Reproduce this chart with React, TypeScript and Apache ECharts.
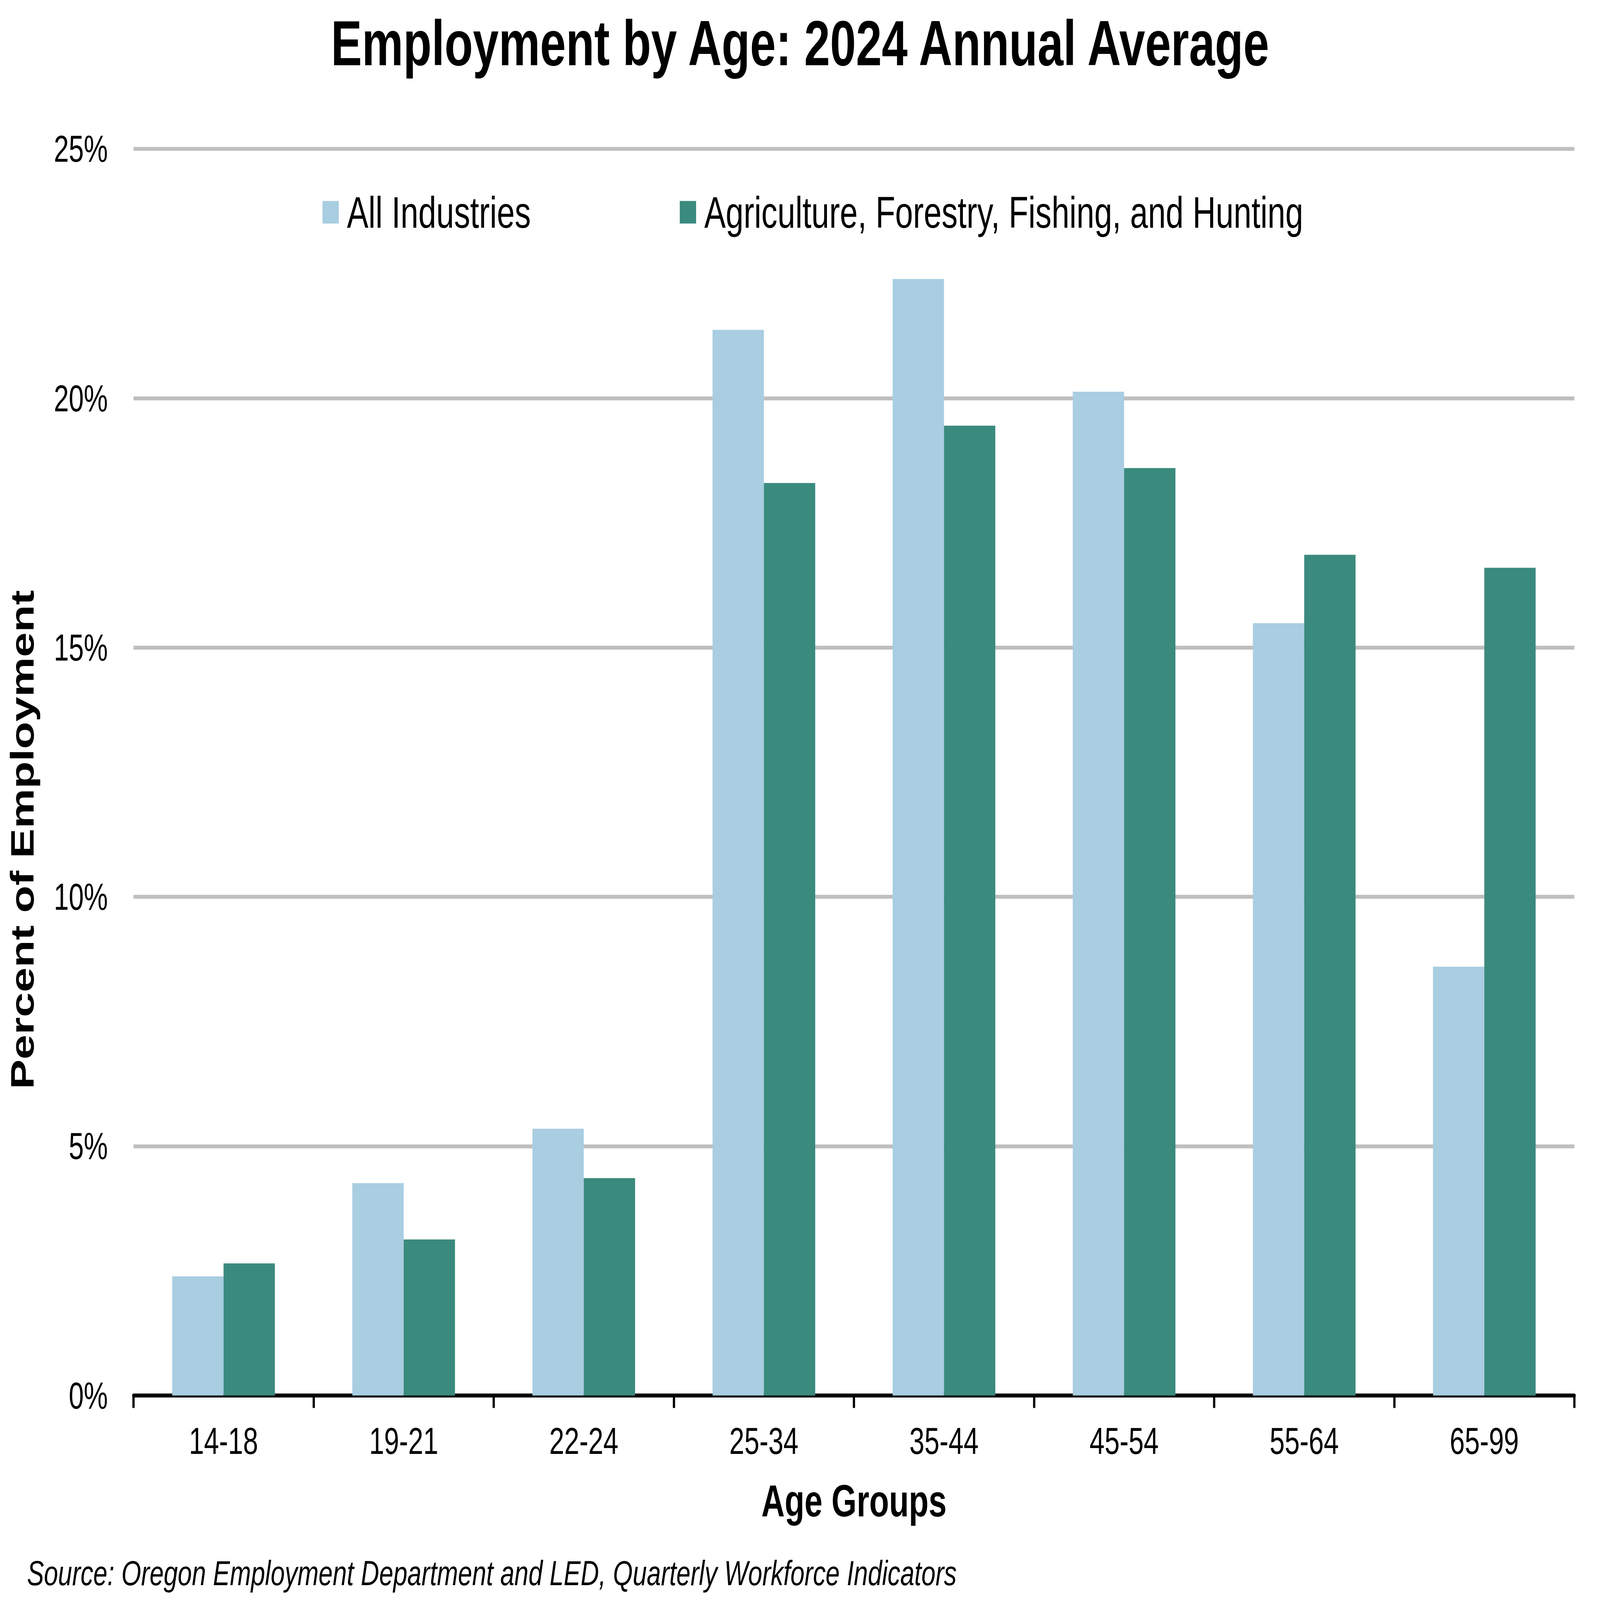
import React, { useEffect, useRef, useState } from "react";
import * as echarts from "echarts";

const categories = ["14-18", "19-21", "22-24", "25-34", "35-44", "45-54", "55-64", "65-99"];
const allIndustries = [2.39, 4.26, 5.35, 21.37, 22.39, 20.13, 15.49, 8.6];
const agriculture = [2.65, 3.13, 4.36, 18.3, 19.45, 18.6, 16.86, 16.6];
const seriesNames = ["All Industries", "Agriculture, Forestry, Fishing, and Hunting"];
const yTicks = { min: 0, max: 25, interval: 5 };
const titleText = "Employment by Age: 2024 Annual Average";
const xAxisTitle = "Age Groups";
const yAxisTitle = "Percent of Employment";
const sourceText = "Source: Oregon Employment Department and LED, Quarterly Workforce Indicators";

const FONT = "'Liberation Sans', Arial, Helvetica, sans-serif";
const W = 5681;
const H = 4116;

function getViewport() {
  const w = Math.min(window.innerWidth || W, W) || W;
  const h = Math.min(window.innerHeight || H, H) || H;
  return { w, h };
}

export default function App() {
  const ref = useRef<HTMLDivElement>(null);
  const [vp] = useState(() => {
    document.body.style.margin = "0";
    document.body.style.overflow = "hidden";
    return getViewport();
  });

  useEffect(() => {
    if (!ref.current) return;
    const chart = echarts.init(ref.current, null, { renderer: "svg", width: W, height: H });
    chart.setOption({
      animation: false,
      backgroundColor: "#ffffff",
      textStyle: { fontFamily: FONT, color: "#000" },
      title: {
        text: titleText,
        left: "center",
        top: 10,
        padding: 0,
        textStyle: { fontFamily: FONT, fontSize: 165, fontWeight: "bold", color: "#000", lineHeight: 200 },
      },
      legend: {
        left: 1145,
        top: 486,
        itemWidth: 58,
        itemHeight: 58,
        itemGap: 529,
        icon: "rect",
        padding: 0,
        data: seriesNames,
        textStyle: { fontFamily: FONT, fontSize: 114, lineHeight: 120, color: "#000", padding: [0, 0, 0, 24] },
      },
      grid: { left: 474, right: W - 5590, top: 383, bottom: H - 3590, containLabel: false },
      xAxis: {
        type: "category",
        data: categories,
        name: xAxisTitle,
        nameLocation: "middle",
        nameGap: 214,
        nameTextStyle: { fontFamily: FONT, fontSize: 115, fontWeight: "bold", color: "#000", lineHeight: 115 },
        axisLine: { show: true, lineStyle: { color: "#000", width: 10 } },
        axisTick: { show: true, length: 32, lineStyle: { color: "#000", width: 8 } },
        axisLabel: { fontFamily: FONT, fontSize: 96, lineHeight: 96, color: "#000", margin: 69 },
        splitLine: { show: false },
      },
      yAxis: {
        type: "value",
        min: yTicks.min,
        max: yTicks.max,
        interval: yTicks.interval,
        axisLine: { show: false },
        axisTick: { show: false },
        axisLabel: { fontFamily: FONT, fontSize: 96, color: "#000", margin: 91, formatter: "{value}%" },
        splitLine: { show: true, lineStyle: { color: "#BFBFBF", width: 10 } },
      },
      series: [
        {
          name: seriesNames[0],
          type: "bar",
          data: allIndustries,
          barGap: "0%",
          barCategoryGap: "43%",
          itemStyle: { color: "#A9CDE1" },
        },
        {
          name: seriesNames[1],
          type: "bar",
          data: agriculture,
          barGap: "0%",
          barCategoryGap: "43%",
          itemStyle: { color: "#3B8A7E" },
        },
      ],
      graphic: [
        {
          type: "text",
          x: 80,
          y: 2160,
          rotation: Math.PI / 2,
          style: {
            text: yAxisTitle,
            fontFamily: FONT,
            fontSize: 115,
            fontWeight: "bold",
            fill: "#000",
            align: "center",
            verticalAlign: "middle",
          },
        },
        {
          type: "text",
          x: 96,
          y: 4047,
          style: {
            text: sourceText,
            fontFamily: FONT,
            fontSize: 90,
            fontStyle: "italic",
            fill: "#000",
            align: "left",
            verticalAlign: "middle",
          },
        },
      ],
    });
    return () => chart.dispose();
  }, []);

  const sx = vp.w / W;
  const sy = vp.h / H;

  return (
    <div style={{ width: vp.w, height: vp.h, overflow: "hidden", position: "relative" }}>
      <div
        ref={ref}
        style={{
          width: W,
          height: H,
          position: "absolute",
          left: 0,
          top: 0,
          transform: `scale(${sx}, ${sy})`,
          transformOrigin: "0 0",
        }}
      />
    </div>
  );
}
